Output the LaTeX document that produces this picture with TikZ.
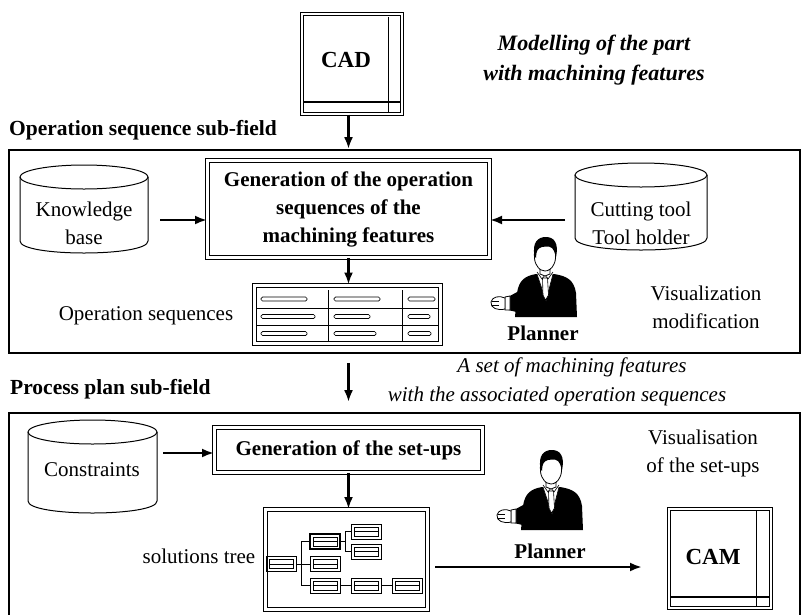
\documentclass[tikz,border=0pt]{standalone}
\usepackage{fontspec}
\setmainfont{Liberation Serif}
\usepackage{tikz}
\usetikzlibrary{arrows.meta,calc,positioning}
\tikzset{
  txt/.style={inner sep=0pt, font=\fontsize{21}{28}\selectfont, align=center},
  heading/.style={inner sep=0pt, anchor=west, font=\fontsize{21.5}{28}\selectfont\bfseries},
  flow/.style={line width=2.4pt, -{Latex[length=12pt,width=9pt]}},
  fieldframe/.style={draw, line width=1.8pt, inner sep=0pt},
  dblbox/.style={draw, double, double distance=3pt, line width=1pt, inner sep=0pt,
    font=\fontsize{21}{28}\selectfont\bfseries, align=center},
  screen/.style={draw, double, double distance=2.5pt, line width=1pt, inner sep=0pt},
  drum/.style={line width=1pt},
  bar/.style={draw, line width=0.7pt, rounded corners=1.5pt},
  leaf/.style={draw, line width=0.9pt, minimum width=30pt, minimum height=15pt, inner sep=0pt,
    path picture={
      \draw[line width=0.6pt] ([xshift=3pt,yshift=-3pt]path picture bounding box.north west)
        rectangle ([xshift=-3pt,yshift=3pt]path picture bounding box.south east);
      \draw[line width=0.6pt] ([xshift=3pt]path picture bounding box.west)
        -- ([xshift=-3pt]path picture bounding box.east);}},
  planner/.pic={
    % suit
    \fill (-9,19) .. controls (-20,21) and (-26,25) .. (-28,38) -- (-30,62) -- (32,62)
      -- (31,38) .. controls (29,25) and (22,21) .. (9,19) -- cycle;
    \fill (-26,36) -- (-37,42) -- (-37,55) -- (-24,58) -- cycle;
    % shirt and tie
    \fill[white] (-8,19) -- (8,19) -- (1,46) -- cycle;
    \draw[line width=0.6pt] (-8,19) -- (1,46) -- (8,19);
    \draw[line width=0.6pt, fill=white] (-2.5,23) -- (2.5,23) -- (3.5,40) -- (0.5,45) -- (-2,40) -- cycle;
    \draw[line width=0.6pt] (-8,17) -- (-3,24) -- (0,20) -- (3,24) -- (8,17);
    % neck and face
    \draw[line width=0.8pt, fill=white] (-5,12) -- (-5,19) -- (0,21) -- (5,19) -- (5,12);
    \draw[line width=0.8pt, fill=white] (0,-15) .. controls (-12,-15) and (-12,4) .. (-9,9)
      .. controls (-6,15) and (-3,16) .. (0,16) .. controls (3,16) and (7,14) .. (9,9)
      .. controls (12,4) and (12,-15) .. (0,-15);
    % hair
    \fill (-10.5,1) .. controls (-13,-13) and (-7,-18) .. (1,-18) .. controls (9,-18) and (14,-12) .. (11,2)
      -- (9,-4) .. controls (7,-9) and (3,-9) .. (-3,-8) .. controls (-7,-7) and (-9,-4) .. (-9,3) -- cycle;
    % cuff and hand
    \draw[line width=0.8pt, fill=white] (-40,42) -- (-35,41) -- (-35,55) -- (-40,55) -- cycle;
    \draw[line width=0.8pt, fill=white] (-40,43) .. controls (-46,40) and (-53,42) .. (-54,47)
      .. controls (-55,53) and (-47,56) .. (-40,54) -- cycle;
    \draw[line width=0.6pt] (-53,46) -- (-46,46) (-53,50) -- (-46,50);
  }
}

\begin{document}
\begin{tikzpicture}[x=1pt, y=-1pt]
\useasboundingbox (0,0) rectangle (807,614);
\clip (0,0) rectangle (807,614);

% CAD model
\node[screen, minimum width=100pt, minimum height=100pt] (cad) at (352,64) {};
\draw[line width=0.9pt] (388,17) -- (388,112);
\draw[line width=1.6pt] (304,102) -- (400,102);
\node[txt, font=\fontsize{23}{28}\selectfont\bfseries] (cadname) at (346,60) {CAD};
\node[txt, font=\fontsize{22}{30}\selectfont\bfseries\itshape] (modelling) at (594,60)
  {Modelling of the part\\with machining features};

% operation sequence sub-field
\node[heading] (opshead) at (9,130) {Operation sequence sub-field};
\node[fieldframe, minimum width=791pt, minimum height=203pt] (sec1) at (404.5,251.5) {};

\node[dblbox, minimum width=282pt, minimum height=97pt] (genops) at (348.5,209)
  {Generation of the operation\\sequences of the\\machining features};

\draw[drum] (20,177) -- (20,241) .. controls (20,257) and (148,257) .. (148,241) -- (148,177);
\draw[drum] (84,177) ellipse [x radius=64pt, y radius=12pt];
\node[txt] (kb) at (84,223) {Knowledge\\base};
\coordinate (kbside) at (148,220);

\draw[drum] (575,175) -- (575,238) .. controls (575,254) and (707,254) .. (707,238) -- (707,175);
\draw[drum] (641,175) ellipse [x radius=66pt, y radius=12pt];
\node[txt] (tools) at (641,223.5) {Cutting tool\\Tool holder};
\coordinate (ctside) at (575,220);

% table of operation sequences
\node[dblbox, minimum width=186pt, minimum height=58pt] (optable) at (347,314) {};
\draw[line width=0.8pt] (328,290) -- (328,342) (402,290) -- (402,342);
\draw[line width=0.8pt] (256,308) -- (438,308) (256,325) -- (438,325);
\draw[bar] (261,297) rectangle (307,301);
\draw[bar] (261,314.5) rectangle (315,318.5);
\draw[bar] (261,331.5) rectangle (307,335.5);
\draw[bar] (334,297) rectangle (380,301);
\draw[bar] (334,314.5) rectangle (370,318.5);
\draw[bar] (334,331.5) rectangle (376,335.5);
\draw[bar] (408,297) rectangle (435,301);
\draw[bar] (408,314.5) rectangle (430,318.5);
\draw[bar] (408,331.5) rectangle (431,335.5);
\node[txt] (opseq) at (146,316) {Operation sequences};

\pic at (545,255) {planner};
\node[txt, font=\fontsize{21}{28}\selectfont\bfseries] (planner1) at (543,333) {Planner};
\node[txt] (visu1) at (706,307.5) {Visualization\\modification};

\draw[flow] (genops.north |- cad.south) -- (genops.north |- sec1.north);
\draw[flow, shorten <=12pt] (kbside) -- (kbside -| genops.west);
\draw[flow, shorten <=10pt] (ctside) -- (ctside -| genops.east);
\draw[flow] (genops.south) -- (genops.south |- optable.north);

% transfer between the two sub-fields
\node[txt, font=\fontsize{21}{28}\selectfont\itshape] (setline1) at (572,367) {A set of machining features};
\node[txt, font=\fontsize{21}{28}\selectfont\itshape] (setline2) at (557,396) {with the associated operation sequences};
\node[heading] (pphead) at (10,389) {Process plan sub-field};

% process plan sub-field
\node[fieldframe, minimum width=791pt, minimum height=227pt] (sec2) at (404.5,526.5) {};
\draw[flow, shorten <=9pt, shorten >=10pt] (genops.north |- sec1.south) -- (genops.north |- sec2.north);

\draw[drum] (28,432) -- (28,501) .. controls (28,517) and (157,517) .. (157,501) -- (157,432);
\draw[drum] (92.5,432) ellipse [x radius=64.5pt, y radius=12pt];
\node[txt] (constr) at (92,470) {Constraints};
\coordinate (cnside) at (157,453);

\node[dblbox, minimum width=268pt, minimum height=45pt] (gensetup) at (348.5,450) {Generation of the set-ups};
\draw[flow, shorten <=6pt] (cnside) -- (cnside -| gensetup.west);

% solutions tree
\node[dblbox, minimum width=162pt, minimum height=100pt] (treebox) at (346.5,559.5) {};
\draw[flow] (gensetup.south) -- (gensetup.south |- treebox.north);
\node[leaf] (root) at (281.5,564) {};
\node[leaf, line width=2.4pt] (sa) at (325,541.5) {};
\node[leaf] (sb) at (325,564) {};
\node[leaf] (sc) at (325,585.5) {};
\node[leaf] (sa1) at (366.5,531.5) {};
\node[leaf] (sa2) at (366.5,551.5) {};
\node[leaf] (sc1) at (366.5,585.5) {};
\node[leaf] (sc2) at (407,585.5) {};
\draw[line width=0.8pt] (root.east) -- (sb.west);
\draw[line width=0.8pt] (sa.west) -- ++(-7,0) |- (sc.west);
\draw[line width=0.8pt] (sa.east) -- ++(5,0);
\draw[line width=0.8pt] (sa1.west) -- ++(-6,0) |- (sa2.west);
\draw[line width=0.8pt] (sc.east) -- (sc1.west) (sc1.east) -- (sc2.west);
\node[txt] (soltree) at (199,556) {solutions tree};

\pic at (551,468) {planner};
\node[txt, font=\fontsize{21}{28}\selectfont\bfseries] (planner2) at (550,551) {Planner};
\node[txt] (visu2) at (703,453.5) {Visualisation\\of the set-ups};

% CAM model
\node[screen, minimum width=102pt, minimum height=99pt] (cam) at (720,558.5) {};
\draw[line width=0.9pt] (756,511) -- (756,606);
\draw[line width=1.6pt] (671,597) -- (769,597);
\node[txt, font=\fontsize{23}{28}\selectfont\bfseries] (camname) at (713,557) {CAM};
\coordinate (camin) at (667,567);
\draw[flow, shorten <=7pt, shorten >=25pt] (camin -| treebox.east) -- (camin);

\end{tikzpicture}
\end{document}
